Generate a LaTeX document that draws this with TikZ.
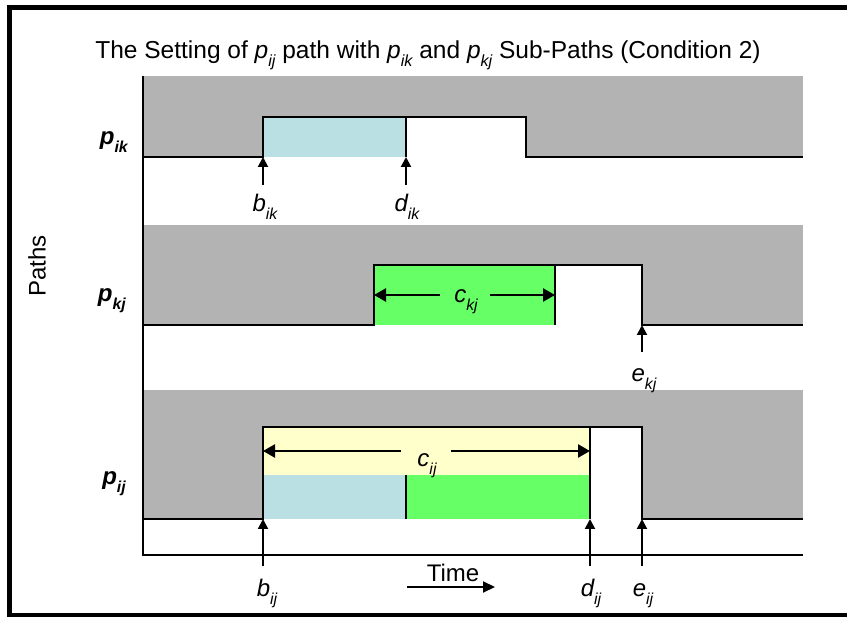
\documentclass[tikz,border=0pt]{standalone}
\usepackage{fontspec}
\setmainfont{Liberation Sans}
\usetikzlibrary{arrows.meta}
\definecolor{bandgray}{HTML}{B3B3B3}
\definecolor{ltblue}{HTML}{BBE0E3}
\definecolor{grn}{HTML}{66FF66}
\definecolor{yel}{HTML}{FFFFCC}
\newcommand{\sbx}[1]{\raisebox{-0.3em}{\scalebox{0.66}{#1}}}
\newcommand{\vr}[2]{\textit{#1\sbx{#2}}}
\tikzset{
  outl/.style={line width=2pt, line join=miter},
  axis/.style={line width=2pt},
  tick/.style={line width=2pt, -{Triangle[length=10pt,width=10pt]}},
  dimarrow/.style={line width=2.5pt, -{Triangle[length=12pt,width=13pt]}},
  lbl/.style={font=\fontsize{24}{28}\selectfont, inner sep=0pt, anchor=base},
  plbl/.style={font=\fontsize{24}{28}\selectfont\bfseries, inner sep=0pt, anchor=base east},
}
\begin{document}
\begin{tikzpicture}[x=1pt,y=-1pt]
\useasboundingbox (0,0) rectangle (847,617);
% frame
\draw[line width=4.5pt] (9.5,7.5) rectangle (860,615);
% title
\node[font=\fontsize{24.5}{28}\selectfont, inner sep=0pt, anchor=base] (title) at (428,59)
  {The Setting of \vr{p}{ij} path with \vr{p}{ik} and \vr{p}{kj} Sub-Paths (Condition 2)};
% Paths axis label
\node[font=\fontsize{24}{28}\selectfont, inner sep=0pt, rotate=90] (paths) at (37,266) {Paths};

% ---------- band p_ik ----------
\fill[bandgray] (143,76) rectangle (803,157);
\fill[white] (263,117) rectangle (526,157);
\fill[ltblue] (263,117) rectangle (406,157);
\draw[outl] (143,157) -- (263,157) -- (263,117) -- (526,117) -- (526,157) -- (803,157);
\draw[outl] (406,117) -- (406,157);
\node[plbl] (pik) at (128,145) {\vr{p}{ik}};

% ---------- band p_kj ----------
\fill[bandgray] (143,225) rectangle (803,325);
\fill[white] (374,265) rectangle (642,325);
\fill[grn] (374,265) rectangle (555,325);
\draw[outl] (143,325) -- (374,325) -- (374,265) -- (642,265) -- (642,325) -- (803,325);
\draw[outl] (555,265) -- (555,325);
\node[plbl] (pkj) at (126,302) {\vr{p}{kj}};

% ---------- band p_ij ----------
\fill[bandgray] (143,390) rectangle (803,519);
\fill[white] (263,427) rectangle (642,519);
\fill[yel] (263,427) rectangle (590,475);
\fill[ltblue] (263,475) rectangle (406,519);
\fill[grn] (406,475) rectangle (590,519);
\draw[outl] (143,519) -- (263,519) -- (263,427) -- (642,427) -- (642,519) -- (803,519);
\draw[outl] (590,427) -- (590,519);
\draw[outl] (406,475) -- (406,519);
\node[plbl] (pij) at (126,485) {\vr{p}{ij}};

% axes
\draw[axis] (143,76) -- (143,555) -- (803,555);

% duration arrows
\node[lbl] (ckj) at (466,303) {\vr{c}{kj}};
\coordinate (ckjL) at (374,295);
\coordinate (ckjR) at (555,295);
\draw[dimarrow] (ckj.west |- ckjL) ++(-14,0) coordinate (ckjA) -- (ckjL);
\draw[dimarrow] (ckj.east |- ckjR) ++(12,0) coordinate (ckjB) -- (ckjR);

\node[lbl] (cij) at (427,467) {\vr{c}{ij}};
\coordinate (cijL) at (263,451);
\coordinate (cijR) at (590,451);
\draw[dimarrow] (cij.west |- cijL) ++(-16,0) coordinate (cijA) -- (cijL);
\draw[dimarrow] (cij.east |- cijR) ++(14,0) coordinate (cijB) -- (cijR);

% event arrows and labels
\coordinate (bikT) at (263,157); \coordinate (bikS) at (263,185);
\coordinate (dikT) at (406,157); \coordinate (dikS) at (406,185);
\coordinate (ekjT) at (642,325); \coordinate (ekjS) at (642,352);
\coordinate (bijT) at (263,519); \coordinate (bijS) at (263,566);
\coordinate (dijT) at (590,519); \coordinate (dijS) at (590,566);
\coordinate (eijT) at (642,519); \coordinate (eijS) at (642,566);
\draw[tick] (bikS) -- (bikT);
\draw[tick] (dikS) -- (dikT);
\draw[tick] (ekjS) -- (ekjT);
\draw[tick] (bijS) -- (bijT);
\draw[tick] (dijS) -- (dijT);
\draw[tick] (eijS) -- (eijT);
\node[lbl] (bik) at (265,212) {\vr{b}{ik}};
\node[lbl] (dik) at (407,212) {\vr{d}{ik}};
\node[lbl] (ekj) at (644,382) {\vr{e}{kj}};
\node[lbl] (bij) at (267,597) {\vr{b}{ij}};
\node[lbl] (dij) at (591,597) {\vr{d}{ij}};
\node[lbl] (eij) at (643,597) {\vr{e}{ij}};

% time
\node[font=\fontsize{24}{28}\selectfont, inner sep=0pt, anchor=base] (time) at (453,582) {Time};
\coordinate (timeA) at (407,587);
\coordinate (timeB) at (495,587);
\draw[line width=2pt, -{Triangle[length=12pt,width=11pt]}] (timeA) -- (timeB);
\end{tikzpicture}
\end{document}
